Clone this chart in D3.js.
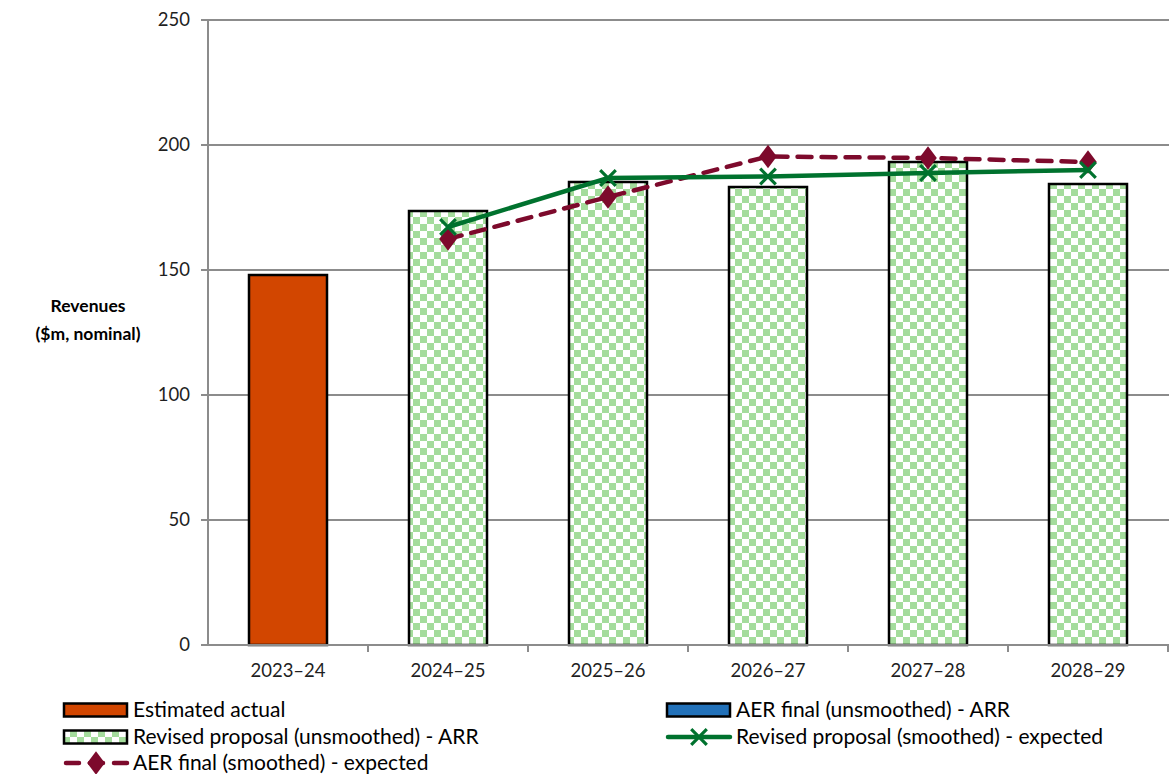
<!DOCTYPE html>
<html>
<head>
<meta charset="utf-8">
<script src="https://cdn.jsdelivr.net/npm/d3@7"></script>
<style>
  body { margin: 0; background: #fff; }
  svg text { font-family: Lato, "Open Sans", sans-serif; fill: #1f1f1f; }
</style>
</head>
<body>
<svg id="chart" width="1169" height="774"></svg>
<script>
var years = ["2023–24", "2024–25", "2025–26", "2026–27", "2027–28", "2028–29"];
var estimatedActual = [148, null, null, null, null, null];
var aerFinalUnsmoothed = [null, null, null, null, null, null];
var revisedUnsmoothed = [null, 173.6, 185.2, 183.2, 193.2, 184.4];
var revisedSmoothed = [null, 167.2, 186.8, 187.4, 188.8, 190];
var aerFinalSmoothed = [null, 162.4, 179.2, 195.4, 194.8, 193.2];
var yTicks = [0, 50, 100, 150, 200, 250];

var svg = d3.select("#chart");
var plotLeft = 208, plotRight = 1168, plotTop = 20, plotBottom = 645;

var x = d3.scaleBand().domain(years).range([plotLeft, plotRight]);
var y = d3.scaleLinear().domain([0, 250]).range([plotBottom, plotTop]);
var barW = 78;

// checker pattern for revised proposal bars
var defs = svg.append("defs");
var pat = defs.append("pattern")
    .attr("id", "checker")
    .attr("patternUnits", "userSpaceOnUse")
    .attr("width", 14).attr("height", 14);
pat.append("rect").attr("width", 14).attr("height", 14).attr("fill", "#fff");
pat.append("rect").attr("width", 7).attr("height", 7).attr("fill", "#a4dc9c");
pat.append("rect").attr("x", 7).attr("y", 7).attr("width", 7).attr("height", 7).attr("fill", "#a4dc9c");

// gridlines
svg.append("g").selectAll("line")
    .data(yTicks)
    .enter().append("line")
    .attr("x1", plotLeft - 7).attr("x2", plotRight + 1)
    .attr("y1", function(d){ return y(d); })
    .attr("y2", function(d){ return y(d); })
    .style("stroke", "#8c8c8c").style("stroke-width", 2);

// y axis line
svg.append("line")
    .attr("x1", plotLeft).attr("x2", plotLeft)
    .attr("y1", plotTop).attr("y2", plotBottom)
    .style("stroke", "#8c8c8c").style("stroke-width", 2);

// y tick labels
svg.append("g").selectAll("text")
    .data(yTicks)
    .enter().append("text")
    .attr("x", 190)
    .attr("y", function(d){ return y(d); })
    .attr("dy", "0.35em")
    .attr("text-anchor", "end")
    .style("font-size", "18.5px")
    .text(function(d){ return d; });

// x tick marks at band boundaries
svg.append("g").selectAll("line")
    .data(years)
    .enter().append("line")
    .attr("x1", function(d){ return x(d) + x.step(); })
    .attr("x2", function(d){ return x(d) + x.step(); })
    .attr("y1", plotBottom).attr("y2", plotBottom + 7)
    .style("stroke", "#8c8c8c").style("stroke-width", 2);

// x labels
svg.append("g").selectAll("text")
    .data(years)
    .enter().append("text")
    .attr("x", function(d){ return x(d) + x.bandwidth() / 2; })
    .attr("y", 677)
    .attr("text-anchor", "middle")
    .style("font-size", "18.5px")
    .text(function(d){ return d; });

// y title
var yt = svg.append("text")
    .attr("x", 88).attr("y", 312)
    .attr("text-anchor", "middle")
    .style("font-size", "17.5px").style("font-weight", "bold")
    .style("fill", "#000");
yt.append("tspan").attr("x", 88).text("Revenues");
yt.append("tspan").attr("x", 88).attr("dy", 28).text("($m, nominal)");

function bars(values, fill, cls){
    svg.append("g").attr("class", cls).selectAll("rect")
        .data(years.map(function(d, i){ return {year: d, v: values[i]}; })
            .filter(function(d){ return d.v != null; }))
        .enter().append("rect")
        .attr("x", function(d){ return x(d.year) + (x.bandwidth() - barW) / 2; })
        .attr("y", function(d){ return y(d.v); })
        .attr("width", barW)
        .attr("height", function(d){ return plotBottom - y(d.v); })
        .style("fill", fill)
        .style("stroke", "#000").style("stroke-width", 2.5);
}

bars(estimatedActual, "#d24600", "estimated");
bars(aerFinalUnsmoothed, "#2271b9", "aerUnsmoothed");
bars(revisedUnsmoothed, "url(#checker)", "revisedUnsmoothed");

// redraw x axis baseline over bars
svg.append("line")
    .attr("x1", plotLeft - 7).attr("x2", plotRight + 1)
    .attr("y1", plotBottom).attr("y2", plotBottom)
    .style("stroke", "#8c8c8c").style("stroke-width", 2);

function pts(values){
    return years.map(function(d, i){ return {year: d, v: values[i]}; })
        .filter(function(d){ return d.v != null; });
}
var cx = function(d){ return x(d.year) + x.bandwidth() / 2; };

var line = d3.line()
    .x(cx)
    .y(function(d){ return y(d.v); });

var redC = "#7d0a2c", greenC = "#00722e";

// AER final smoothed - dashed with diamonds
svg.append("path")
    .datum(pts(aerFinalSmoothed))
    .attr("d", line)
    .style("fill", "none").style("stroke", redC)
    .style("stroke-width", 4.5)
    .style("stroke-dasharray", "14,10")
    .style("stroke-linecap", "round");

var diamond = d3.symbol().type(d3.symbolDiamond).size(160);
svg.append("g").selectAll("path")
    .data(pts(aerFinalSmoothed))
    .enter().append("path")
    .attr("transform", function(d){ return "translate(" + cx(d) + "," + y(d.v) + ") scale(1.3,1)"; })
    .attr("d", diamond)
    .style("fill", redC);

// revised proposal smoothed - solid with x markers
svg.append("path")
    .datum(pts(revisedSmoothed))
    .attr("d", line)
    .style("fill", "none").style("stroke", greenC)
    .style("stroke-width", 4.5);

var cross = d3.symbol().type(d3.symbolX).size(160);
svg.append("g").selectAll("path")
    .data(pts(revisedSmoothed))
    .enter().append("path")
    .attr("transform", function(d){ return "translate(" + cx(d) + "," + y(d.v) + ")"; })
    .attr("d", cross)
    .style("fill", "none").style("stroke", greenC).style("stroke-width", 3.2);

// legend
var legendItems = [
    {label: "Estimated actual", type: "bar", fill: "#d24600", x: 63, y: 710},
    {label: "AER final (unsmoothed) - ARR", type: "bar", fill: "#2271b9", x: 666, y: 710},
    {label: "Revised proposal (unsmoothed) - ARR", type: "bar", fill: "url(#checker)", x: 63, y: 737},
    {label: "Revised proposal (smoothed) - expected", type: "green", x: 666, y: 737},
    {label: "AER final (smoothed) - expected", type: "red", x: 63, y: 763}
];

var lg = svg.append("g").selectAll("g")
    .data(legendItems)
    .enter().append("g")
    .attr("transform", function(d){ return "translate(" + d.x + "," + d.y + ")"; });

lg.each(function(d){
    var g = d3.select(this);
    if(d.type == "bar"){
        g.append("rect")
            .attr("x", 1).attr("y", -6.5)
            .attr("width", 63).attr("height", 13)
            .style("fill", d.fill)
            .style("stroke", "#000").style("stroke-width", 2.5);
    }
    else if(d.type == "green"){
        g.append("line").attr("x1", 2).attr("x2", 64).attr("y1", 0).attr("y2", 0)
            .style("stroke", greenC).style("stroke-width", 4.5).style("stroke-linecap", "round");
        g.append("path").attr("transform", "translate(33,0)").attr("d", cross)
            .style("fill", "none").style("stroke", greenC).style("stroke-width", 3.2);
    }
    else{
        g.append("line").attr("x1", 3).attr("x2", 64).attr("y1", 0).attr("y2", 0)
            .style("stroke", redC).style("stroke-width", 4.5)
            .style("stroke-dasharray", "13,11")
            .style("stroke-linecap", "round");
        g.append("path").attr("transform", "translate(33,0) scale(1.3,1)").attr("d", diamond)
            .style("fill", redC);
    }
    g.append("text")
        .attr("x", 70).attr("y", 0).attr("dy", "0.35em")
        .style("font-size", "21px")
        .style("fill", "#000")
        .text(d.label);
});
</script>
</body>
</html>
